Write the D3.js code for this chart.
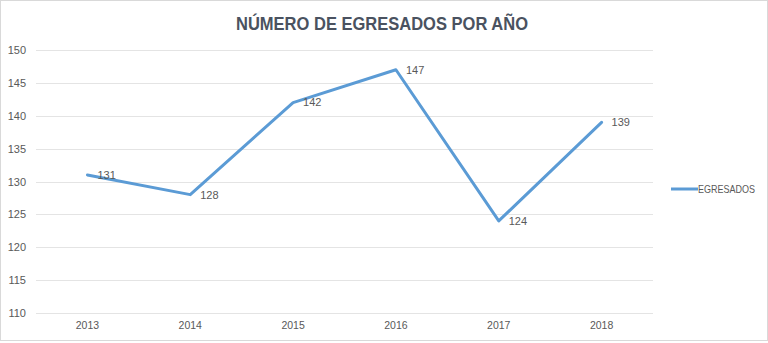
<!DOCTYPE html>
<html>
<head>
<meta charset="utf-8">
<script src="https://cdn.jsdelivr.net/npm/d3@7"></script>
<style>
  html, body { margin: 0; padding: 0; background: #fff; }
  svg { display: block; }
</style>
</head>
<body>
<svg id="chart" width="768" height="343"></svg>
<script>
const years = ["2013", "2014", "2015", "2016", "2017", "2018"];
const egresados = [131, 128, 142, 147, 124, 139];
const yTicks = [110, 115, 120, 125, 130, 135, 140, 145, 150];
const seriesName = "EGRESADOS";
const titleText = "NÚMERO DE EGRESADOS POR AÑO";

const svg = d3.select("#chart");
const W = 768, H = 343;
const font = "'Liberation Sans', Arial, sans-serif";
const textColor = "#595959";
const titleColor = "#4A5260";
const lineColor = "#5B9BD5";

// chart frame
svg.append("rect")
  .attr("x", 0.5).attr("y", 0.5)
  .attr("width", W - 1).attr("height", H - 3)
  .attr("fill", "#fff").attr("stroke", "#D9D9D9");

const plot = { left: 36, right: 653, top: 50, bottom: 313 };

const x = d3.scaleBand().domain(years).range([plot.left, plot.right]);
const y = d3.scaleLinear().domain([110, 150]).range([plot.bottom, plot.top]);

// title
svg.append("text")
  .attr("x", 382).attr("y", 30)
  .attr("text-anchor", "middle")
  .attr("font-family", font)
  .attr("font-weight", "bold")
  .attr("font-size", 18)
  .attr("textLength", 292)
  .attr("lengthAdjust", "spacingAndGlyphs")
  .attr("fill", titleColor)
  .text(titleText);

// gridlines
svg.append("g")
  .selectAll("line")
  .data(yTicks)
  .join("line")
  .attr("x1", plot.left).attr("x2", plot.right)
  .attr("y1", d => Math.round(y(d)) + 0.5).attr("y2", d => Math.round(y(d)) + 0.5)
  .attr("stroke", "#E4E4E4").attr("stroke-width", 1);

// y axis
const yAxis = svg.append("g")
  .attr("transform", `translate(${plot.left},0)`)
  .call(d3.axisLeft(y).tickValues(yTicks).tickSize(0).tickPadding(10));
yAxis.select(".domain").remove();
yAxis.selectAll("text")
  .attr("font-family", font).attr("font-size", 11).attr("fill", textColor);

// x axis
const xAxis = svg.append("g")
  .attr("transform", `translate(0,${plot.bottom})`)
  .call(d3.axisBottom(x).tickSize(0).tickPadding(9));
xAxis.select(".domain").remove();
xAxis.selectAll("text")
  .attr("font-family", font).attr("font-size", 10.5).attr("fill", textColor);

const cx = d => x(d) + x.bandwidth() / 2;

// series line
const pts = years.map((yr, i) => ({ yr, v: egresados[i] }));
svg.append("path")
  .datum(pts)
  .attr("fill", "none")
  .attr("stroke", lineColor)
  .attr("stroke-width", 3)
  .attr("stroke-linejoin", "round")
  .attr("stroke-linecap", "round")
  .attr("d", d3.line().x(d => cx(d.yr)).y(d => y(d.v)));

// data labels
svg.append("g")
  .selectAll("text")
  .data(pts)
  .join("text")
  .attr("x", d => cx(d.yr) + 10)
  .attr("y", d => y(d.v))
  .attr("dy", "0.35em")
  .attr("font-family", font).attr("font-size", 11).attr("fill", textColor)
  .text(d => d.v);

// legend
const lg = svg.append("g").attr("transform", "translate(671,189)");
lg.append("line")
  .attr("x1", 0).attr("x2", 27).attr("y1", 0).attr("y2", 0)
  .attr("stroke", lineColor).attr("stroke-width", 3);
lg.append("text")
  .attr("x", 27).attr("y", 0).attr("dy", "0.35em")
  .attr("font-family", font).attr("font-size", 10.5)
  .attr("textLength", 57).attr("lengthAdjust", "spacingAndGlyphs")
  .attr("fill", textColor)
  .text(seriesName);
</script>
</body>
</html>
